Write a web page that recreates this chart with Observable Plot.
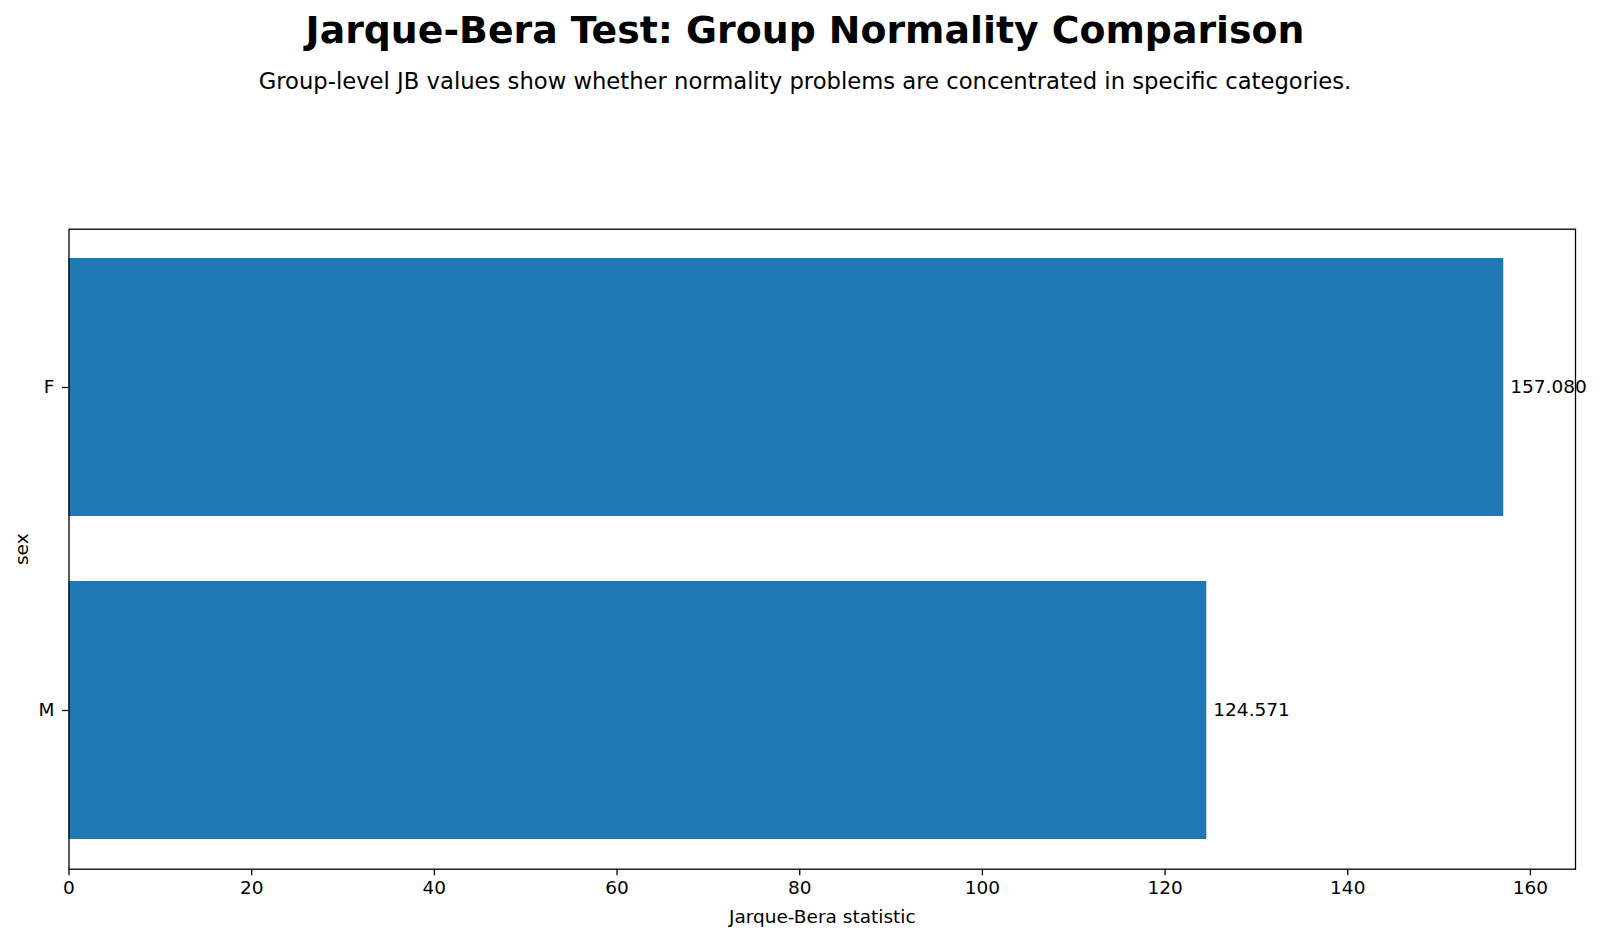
<!DOCTYPE html>
<html>
<head>
<meta charset="utf-8">
<script src="https://cdn.jsdelivr.net/npm/d3@7"></script>
<script src="https://cdn.jsdelivr.net/npm/@observablehq/plot@0.6"></script>
<style>
  html, body { margin: 0; padding: 0; background: #fff; }
  #wrap { position: relative; width: 1600px; height: 939px; font-family: "DejaVu Sans", sans-serif; overflow: hidden; }
  #title { position: absolute; left: 0; width: 1610px; top: 7.5px; text-align: center; font-weight: bold; font-size: 37.8px; line-height: 44px; color: #000; white-space: nowrap; }
  #subtitle { position: absolute; left: 0; width: 1610px; top: 68px; text-align: center; font-size: 22.7px; line-height: 26px; color: #000; white-space: nowrap; }
  #chart { position: absolute; left: 0; top: 110px; }
</style>
</head>
<body>
<div id="wrap">
  <div id="title">Jarque-Bera Test: Group Normality Comparison</div>
  <div id="subtitle">Group-level JB values show whether normality problems are concentrated in specific categories.</div>
  <div id="chart"></div>
</div>
<script>
const categories = ["F", "M"];
const jbValues = [157.080, 124.571];
const jbLabels = ["157.080", "124.571"];
const xTicks = [0, 20, 40, 60, 80, 100, 120, 140, 160];
const xLabel = "Jarque-Bera statistic";
const yLabel = "sex";

const data = categories.map((c, i) => ({group: c, jb: jbValues[i], label: jbLabels[i]}));
const xMax = d3.max(jbValues) * 1.05;

const chart = Plot.plot({
  width: 1600,
  height: 829,
  marginTop: 118.7,
  marginBottom: 70.3,
  marginLeft: 68.5,
  marginRight: 25,
  style: { fontFamily: "DejaVu Sans, sans-serif", fontSize: "18.5px", color: "#000", background: "#fff" },
  x: { domain: [0, xMax] },
  y: { domain: categories, paddingInner: 0.2, paddingOuter: 0.09 },
  marks: [
    Plot.barX(data, { y: "group", x: "jb", fill: "#1f77b4" }),
    Plot.text(data, { y: "group", x: "jb", text: "label", textAnchor: "start", dx: 6.5, fill: "#000", fontSize: 18.5 }),
    Plot.frame({ stroke: "#000", strokeWidth: 1.3 }),
    Plot.axisX({ ticks: xTicks, tickSize: 6.5, tickPadding: 5, tickFormat: d3.format("d"), label: xLabel, labelAnchor: "center", labelArrow: "none", labelOffset: 54, stroke: "#000", strokeWidth: 1.3, fontSize: 18.5 }),
    Plot.axisY({ tickSize: 6.5, tickPadding: 8, label: yLabel, labelAnchor: "center", labelArrow: "none", labelOffset: 54, stroke: "#000", strokeWidth: 1.3, fontSize: 18.5 })
  ]
});
document.getElementById("chart").appendChild(chart);
</script>
</body>
</html>
